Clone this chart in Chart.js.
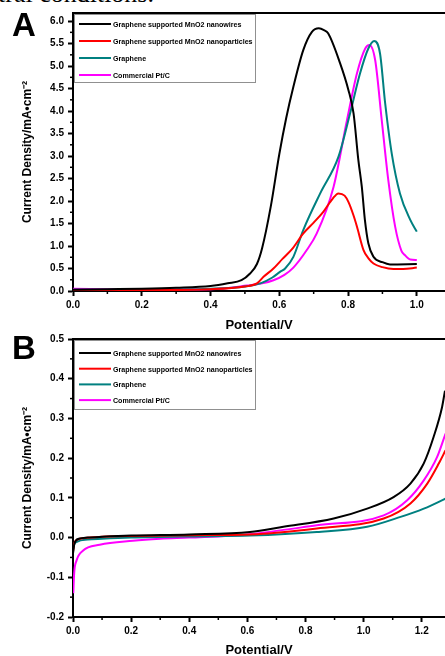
<!DOCTYPE html>
<html>
<head>
<meta charset="utf-8">
<script src="https://cdn.jsdelivr.net/npm/chart.js@4/dist/chart.umd.min.js"></script>
<style>
  html, body { margin: 0; padding: 0; background: #fff; overflow: hidden; width: 445px; height: 656px; }
  .box { position: absolute; left: 0; width: 445px; }
  #boxA { top: 0; height: 335px; }
  #boxB { top: 326px; height: 334px; }
  .cap { position: absolute; left: -2px; top: -21px; font: 26px "Liberation Serif", serif; white-space: nowrap; }
</style>
</head>
<body>
<div class="cap">tral conditions.</div>
<div class="box" id="boxA"><canvas id="chartA"></canvas></div>
<div class="box" id="boxB"><canvas id="chartB"></canvas></div>
<script>
// series labels
const seriesNames = ['Graphene supported MnO2 nanowires', 'Graphene supported MnO2 nanoparticles', 'Graphene', 'Commercial Pt/C']
const seriesColors = ['#000000', '#ff0000', '#008080', '#ff00ff']

// Panel A
const wiresAx = [0, 0.1, 0.2, 0.3, 0.4, 0.45, 0.49, 0.515, 0.535, 0.55, 0.575, 0.6, 0.62, 0.641, 0.67, 0.695, 0.715, 0.73, 0.742, 0.777, 0.801, 0.816, 0.83, 0.84, 0.849, 0.859, 0.874, 0.9, 0.922, 1.0]
const wiresAy = [0.03, 0.04, 0.05, 0.07, 0.11, 0.17, 0.24, 0.39, 0.6, 0.95, 1.87, 3.04, 3.84, 4.54, 5.36, 5.76, 5.84, 5.8, 5.73, 5.06, 4.47, 3.95, 2.91, 2.32, 1.58, 1.06, 0.76, 0.64, 0.59, 0.6]
const partsAx = [0, 0.2, 0.4, 0.5, 0.535, 0.555, 0.583, 0.61, 0.637, 0.67, 0.7, 0.728, 0.755, 0.772, 0.79, 0.801, 0.815, 0.826, 0.845, 0.86, 0.874, 0.9, 0.932, 0.96, 1.0]
const partsAy = [0.02, 0.02, 0.04, 0.1, 0.17, 0.32, 0.5, 0.72, 0.93, 1.28, 1.52, 1.76, 2.05, 2.17, 2.12, 1.98, 1.7, 1.43, 0.91, 0.72, 0.61, 0.53, 0.49, 0.49, 0.52]
const grapheneAx = [0, 0.2, 0.4, 0.5, 0.545, 0.58, 0.603, 0.617, 0.641, 0.67, 0.719, 0.772, 0.806, 0.835, 0.859, 0.876, 0.893, 0.908, 0.927, 0.951, 0.981, 1.0]
const grapheneAy = [0.03, 0.03, 0.05, 0.1, 0.17, 0.3, 0.43, 0.5, 0.76, 1.36, 2.17, 2.98, 3.95, 4.84, 5.39, 5.56, 5.28, 4.17, 3.06, 2.17, 1.58, 1.32]
const ptcAx = [0, 0.1, 0.2, 0.4, 0.506, 0.55, 0.583, 0.615, 0.641, 0.68, 0.709, 0.758, 0.797, 0.826, 0.85, 0.862, 0.879, 0.898, 0.917, 0.937, 0.955, 0.965, 0.981, 1.0]
const ptcAy = [0.05, 0.04, 0.03, 0.04, 0.12, 0.17, 0.24, 0.36, 0.52, 0.91, 1.28, 2.32, 3.8, 4.84, 5.39, 5.47, 5.13, 3.8, 2.47, 1.43, 0.9, 0.8, 0.7, 0.69]

// Panel B
const wiresBx = [0, 0.005, 0.02, 0.05, 0.1, 0.2, 0.4, 0.609, 0.724, 0.897, 1.012, 1.103, 1.161, 1.207, 1.241, 1.27, 1.28]
const wiresBy = [-0.04, -0.015, -0.003, 0.0, 0.002, 0.005, 0.008, 0.014, 0.027, 0.048, 0.073, 0.102, 0.136, 0.187, 0.254, 0.329, 0.37]
const partsBx = [0, 0.004, 0.015, 0.04, 0.1, 0.2, 0.4, 0.609, 0.839, 1.069, 1.161, 1.219, 1.259, 1.282]
const partsBy = [-0.035, -0.015, -0.005, -0.001, 0.002, 0.004, 0.006, 0.008, 0.023, 0.048, 0.086, 0.136, 0.187, 0.22]
const grapheneBx = [0, 0.004, 0.015, 0.05, 0.1, 0.2, 0.4, 0.609, 0.839, 1.012, 1.127, 1.207, 1.282]
const grapheneBy = [-0.03, -0.018, -0.01, -0.005, -0.003, 0.0, 0.003, 0.005, 0.014, 0.027, 0.052, 0.073, 0.098]
const ptcBx = [0.001, 0.004, 0.012, 0.034, 0.092, 0.206, 0.3, 0.4, 0.6, 0.839, 1.069, 1.15, 1.207, 1.253, 1.282]
const ptcBy = [-0.14, -0.09, -0.058, -0.033, -0.018, -0.008, -0.003, 0.0, 0.008, 0.031, 0.056, 0.094, 0.144, 0.203, 0.262]

// tick values
const xTicksA = [0, 0.2, 0.4, 0.6, 0.8, 1.0]
const yTicksA = [0, 0.5, 1.0, 1.5, 2.0, 2.5, 3.0, 3.5, 4.0, 4.5, 5.0, 5.5, 6.0]
const xTicksB = [0, 0.2, 0.4, 0.6, 0.8, 1.0, 1.2]
const yTicksB = [-0.2, -0.1, 0.0, 0.1, 0.2, 0.3, 0.4, 0.5]

const FONT = '"Liberation Sans", Arial, sans-serif'

function pts (xs, ys) {
  return xs.map((x, i) => ({ x: x, y: ys[i] }))
}

function makeSets (lists) {
  return lists.map((l, i) => ({
    label: seriesNames[i],
    data: pts(l[0], l[1]),
    borderColor: seriesColors[i],
    borderWidth: 2,
    showLine: true,
    pointRadius: 0,
    cubicInterpolationMode: 'monotone',
    fill: false
  }))
}

// legend box, minor ticks, frame and panel letter
const decor = {
  id: 'decor',
  afterDraw: function (chart, args, opts) {
    const ctx = chart.ctx
    const a = chart.chartArea
    ctx.save()
    // minor ticks
    ctx.strokeStyle = '#000'
    ctx.lineWidth = 1.5
    const xs = chart.scales.x, ys = chart.scales.y
    opts.minorX.forEach(v => {
      const px = xs.getPixelForValue(v)
      ctx.beginPath(); ctx.moveTo(px, a.bottom); ctx.lineTo(px, a.bottom + 3); ctx.stroke()
    })
    opts.minorY.forEach(v => {
      const py = ys.getPixelForValue(v)
      ctx.beginPath(); ctx.moveTo(a.left, py); ctx.lineTo(a.left - 3, py); ctx.stroke()
    })
    // top frame
    ctx.lineWidth = 2
    ctx.beginPath(); ctx.moveTo(a.left, a.top); ctx.lineTo(a.right, a.top); ctx.stroke()
    // legend
    const lx = a.left + 1, ly = a.top + 1
    ctx.lineWidth = 1
    ctx.strokeStyle = '#909090'
    ctx.fillStyle = '#fff'
    ctx.fillRect(lx, ly, opts.legW, opts.legH)
    ctx.strokeRect(lx + 0.5, ly + 0.5, opts.legW, opts.legH)
    ctx.font = 'bold 7.1px ' + FONT
    ctx.textBaseline = 'middle'
    chart.data.datasets.forEach((d, i) => {
      const y = ly + opts.legFirst + i * opts.legStep
      ctx.strokeStyle = d.borderColor
      ctx.lineWidth = 2
      ctx.beginPath(); ctx.moveTo(lx + 5, y); ctx.lineTo(lx + 37, y); ctx.stroke()
      ctx.fillStyle = '#000'
      ctx.fillText(d.label, lx + 39, y + 1)
    })
    // panel letter
    ctx.font = 'bold 33px ' + FONT
    ctx.textBaseline = 'alphabetic'
    ctx.fillStyle = '#000'
    ctx.fillText(opts.letter, 12, opts.letterY)
    ctx.restore()
  }
}

function makeChart (id, sets, cfg) {
  return new Chart(document.getElementById(id), {
    type: 'scatter',
    data: { datasets: sets },
    plugins: [decor],
    options: {
      responsive: true,
      maintainAspectRatio: false,
      animation: false,
      layout: { padding: { top: cfg.padTop, right: 0, left: 0, bottom: 0 } },
      plugins: {
        legend: { display: false },
        tooltip: { enabled: false },
        decor: cfg.decor
      },
      scales: {
        x: {
          type: 'linear',
          min: 0,
          max: cfg.xMax,
          afterBuildTicks: axis => { axis.ticks = cfg.xTicks.map(v => ({ value: v })) },
          afterFit: axis => { axis.height = cfg.xHeight },
          grid: { drawOnChartArea: false, tickLength: 5, tickWidth: 2, tickColor: '#000' },
          border: { color: '#000', width: 2 },
          ticks: {
            color: '#000', padding: 3, maxRotation: 0,
            font: { family: FONT, size: 10, weight: 'bold' },
            callback: v => v.toFixed(1)
          },
          title: {
            display: true, text: 'Potential/V', color: '#000',
            font: { family: FONT, size: 13, weight: 'bold' },
            padding: { top: 0, bottom: 2 }
          }
        },
        y: {
          type: 'linear',
          min: cfg.yMin,
          max: cfg.yMax,
          afterBuildTicks: axis => { axis.ticks = cfg.yTicks.map(v => ({ value: v })) },
          afterFit: axis => { axis.width = 73 },
          grid: { drawOnChartArea: false, tickLength: 5, tickWidth: 2, tickColor: '#000' },
          border: { color: '#000', width: 2 },
          ticks: {
            color: '#000', padding: 4,
            font: { family: FONT, size: 10, weight: 'bold' },
            callback: v => v.toFixed(1)
          },
          title: {
            display: true, text: 'Current Density/mA\u2022cm\u207B\u00B2', color: '#000',
            font: { family: FONT, size: 12, weight: 'bold' },
            padding: { top: 20, bottom: 0 }
          }
        }
      }
    }
  })
}

const minorXA = [0.1, 0.3, 0.5, 0.7, 0.9]
const minorYA = yTicksA.map(v => v + 0.25).filter(v => v < 6.2)
const minorXB = [0.1, 0.3, 0.5, 0.7, 0.9, 1.1]
const minorYB = yTicksB.map(v => v + 0.05).filter(v => v < 0.5)

makeChart('chartA', makeSets([[wiresAx, wiresAy], [partsAx, partsAy], [grapheneAx, grapheneAy], [ptcAx, ptcAy]]), {
  padTop: 13, xMax: 1.082, yMin: 0, yMax: 6.18, xHeight: 44,
  xTicks: xTicksA, yTicks: yTicksA,
  decor: { minorX: minorXA, minorY: minorYA, legW: 181, legH: 68, legFirst: 10, legStep: 17, letter: 'A', letterY: 36 }
})

makeChart('chartB', makeSets([[wiresBx, wiresBy], [partsBx, partsBy], [grapheneBx, grapheneBy], [ptcBx, ptcBy]]), {
  padTop: 13, xMax: 1.28, yMin: -0.2, yMax: 0.5, xHeight: 43,
  xTicks: xTicksB, yTicks: yTicksB,
  decor: { minorX: minorXB, minorY: minorYB, legW: 181, legH: 69, legFirst: 13, legStep: 15.7, letter: 'B', letterY: 33 }
})
</script>
</body>
</html>
